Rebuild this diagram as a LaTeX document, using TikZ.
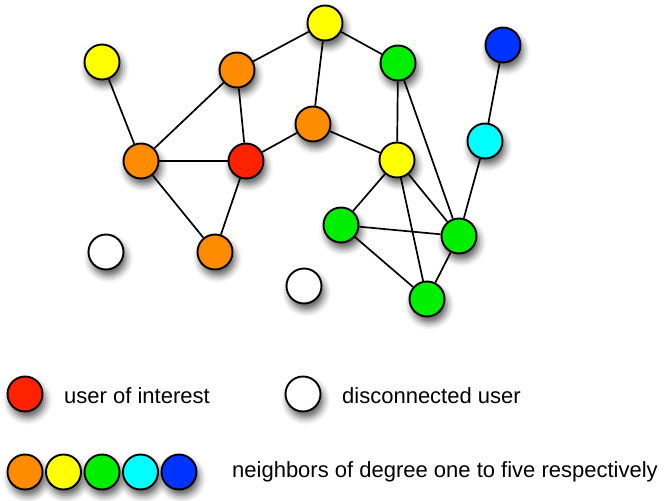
\documentclass[tikz,border=0pt]{standalone}
\usepackage{fontspec}
\setmainfont{Liberation Sans}
\usetikzlibrary{shadows.blur}

\definecolor{degone}{HTML}{FF8C00}
\definecolor{degtwo}{HTML}{FFFF00}
\definecolor{degthree}{HTML}{00EE00}
\definecolor{degfour}{HTML}{00FFFF}
\definecolor{degfive}{HTML}{0033FF}
\definecolor{focus}{HTML}{FF2200}

\tikzset{
  user/.style={circle, draw=black, line width=1.9pt, minimum size=35pt,
    inner sep=0pt, fill=#1,
    blur shadow={shadow xshift=2.5pt, shadow yshift=-6pt,
      shadow blur radius=7pt, shadow opacity=65}},
  user/.default=white,
  link/.style={line width=1.7pt, draw=black},
  caption/.style={anchor=base west, inner sep=0pt,
    font=\fontsize{22}{26}\selectfont}
}

\begin{document}
\begin{tikzpicture}[x=1pt, y=-1pt]
\useasboundingbox (0,0) rectangle (665,501);

% network: users
\node[user=degtwo]   (y1) at (102,62)  {};
\node[user=degone]   (o1) at (237,70)  {};
\node[user=degtwo]   (y2) at (325,23)  {};
\node[user=degthree] (g1) at (398,63)  {};
\node[user=degfive]  (b1) at (503,45)  {};
\node[user=degfour]  (c1) at (485,141) {};
\node[user=degone]   (o2) at (313,124) {};
\node[user=degone]   (o3) at (141,161) {};
\node[user=focus]    (r1) at (246,161) {};
\node[user=degtwo]   (y3) at (397,160) {};
\node[user=degthree] (g2) at (341,225) {};
\node[user=degthree] (g3) at (459,236) {};
\node[user=degthree] (g4) at (427,299) {};
\node[user=degone]   (o4) at (215,252) {};
\node[user]          (w1) at (106,252) {};
\node[user]          (w2) at (304,286) {};

% network: links (they stop at the circle borders)
\draw[link] (y1) -- (o3);
\draw[link] (o3) -- (o1);
\draw[link] (o3) -- (r1);
\draw[link] (o3) -- (o4);
\draw[link] (o1) -- (r1);
\draw[link] (o1) -- (y2);
\draw[link] (r1) -- (o4);
\draw[link] (r1) -- (o2);
\draw[link] (o2) -- (y2);
\draw[link] (o2) -- (y3);
\draw[link] (y2) -- (g1);
\draw[link] (g1) -- (y3);
\draw[link] (g1) -- (g3);
\draw[link] (y3) -- (g2);
\draw[link] (y3) -- (g3);
\draw[link] (y3) -- (g4);
\draw[link] (g2) -- (g3);
\draw[link] (g2) -- (g4);
\draw[link] (g3) -- (g4);
\draw[link] (g3) -- (c1);
\draw[link] (c1) -- (b1);

% legend
\node[user=focus] (kfocus) at (25,394) {};
\node[caption] (tfocus) at (64,403) {user of interest};
\node[user] (kalone) at (303,394) {};
\node[caption] (talone) at (342,403) {disconnected user};

\node[user=degone]   (k1) at (25,472)  {};
\node[user=degtwo]   (k2) at (63.5,472) {};
\node[user=degthree] (k3) at (102,472) {};
\node[user=degfour]  (k4) at (140.5,472) {};
\node[user=degfive]  (k5) at (179,472) {};
\node[caption] (tdeg) at (232,477) {neighbors of degree one to five respectively};
\end{tikzpicture}
\end{document}
